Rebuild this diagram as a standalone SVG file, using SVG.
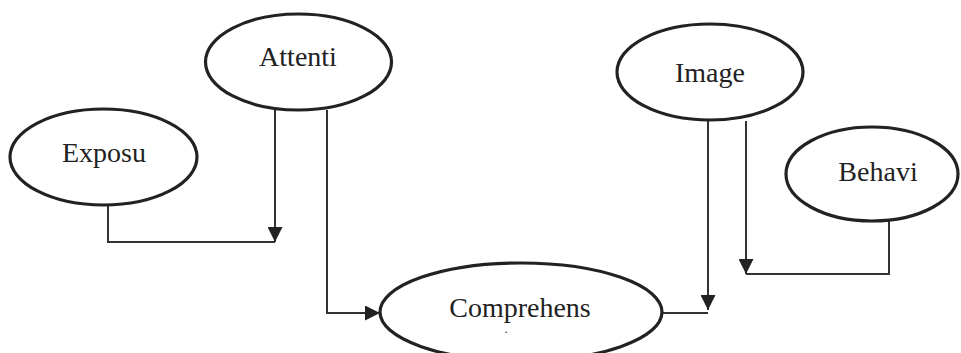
<svg xmlns="http://www.w3.org/2000/svg" width="961" height="353" viewBox="0 0 961 353">
<style>
.node ellipse{fill:#fff;stroke:#222;stroke-width:3.2}
.node text{font-family:"Liberation Serif","Times New Roman",serif;font-size:28px;fill:#222;text-anchor:middle}
.conn path{fill:none;stroke:#333;stroke-width:2}
</style>
<defs>
<marker id="arr" viewBox="0 0 10 10" refX="10" refY="5" markerWidth="15" markerHeight="15" markerUnits="userSpaceOnUse" orient="auto">
<path d="M0,0 L10,5 L0,10 Z" fill="#222"/>
</marker>
</defs>
<rect width="961" height="353" fill="#fff"/>
<g class="conn">
<path d="M108,205 V242 H275"/>
<path d="M275,110 V242" marker-end="url(#arr)"/>
<path d="M327,110 V313 H380" marker-end="url(#arr)"/>
<path d="M662,313 H708"/>
<path d="M708,120 V310" marker-end="url(#arr)"/>
<path d="M746,121 V274" marker-end="url(#arr)"/>
<path d="M889,221 V274 H746"/>
</g>
<g id="attention" class="node">
<ellipse cx="298.5" cy="62" rx="93" ry="48"/>
<text x="298" y="66">Attenti</text>
</g>
<g id="exposure" class="node">
<ellipse cx="103.5" cy="157" rx="93.5" ry="48"/>
<text x="104" y="162">Exposu</text>
</g>
<g id="image" class="node">
<ellipse cx="710" cy="72" rx="93" ry="48"/>
<text x="710" y="82">Image</text>
</g>
<g id="behavior" class="node">
<ellipse cx="872" cy="174" rx="86" ry="47"/>
<text x="878" y="181">Behavi</text>
</g>
<g id="comprehension" class="node">
<ellipse cx="521" cy="312" rx="141" ry="49"/>
<text x="520" y="317">Comprehens</text>
<text x="506" y="333" style="font-size:9px;font-weight:bold">.</text>
</g>
</svg>
